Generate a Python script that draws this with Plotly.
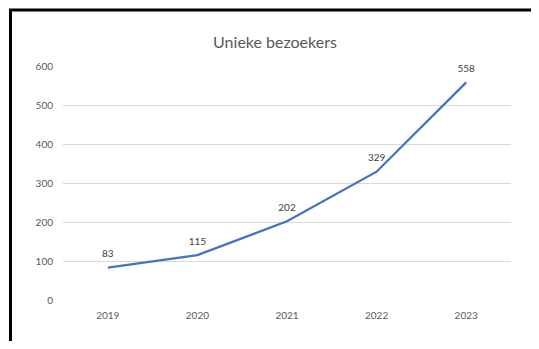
import plotly.graph_objects as go

years = ["2019", "2020", "2021", "2022", "2023"]
visitors = [83, 115, 202, 329, 558]
title_text = "Unieke bezoekers"

OFF = 8  # page body margin
W, H = 539 - OFF, 349 - 2 * OFF
L, T = 63 - OFF, 66 - OFF
R = W - (511 - OFF)
B = H - (300 - OFF)
pw = W - L - R
ph = H - T - B

fig = go.Figure()
fig.add_trace(go.Scatter(
    x=years, y=visitors, mode="lines+markers+text",
    text=[str(v) for v in visitors], textposition="top center",
    textfont=dict(size=10, color="#404040", family="Lato"),
    line=dict(color="#4472C4", width=2.25),
    marker=dict(size=11, color="rgba(0,0,0,0)"),
    hoverinfo="skip", cliponaxis=False,
))

def px_x(p):
    return (p - OFF - L) / pw

def px_y(p):
    return (H - B - (p - OFF)) / ph

# chart frame: only its top and left edges fall inside the page
fig.add_shape(type="rect", xref="paper", yref="paper",
              x0=px_x(10.5), x1=px_x(600), y0=px_y(10), y1=px_y(420),
              line=dict(color="black", width=3), fillcolor="rgba(0,0,0,0)",
              layer="below")

fig.update_layout(
    width=W, height=H,
    margin=dict(l=L, r=R, t=T, b=B),
    paper_bgcolor="white", plot_bgcolor="white",
    showlegend=False,
    font=dict(family="Lato", color="#595959", size=10),
    title=dict(text=title_text, x=(275 - OFF) / W, xanchor="center", xref="container",
               y=1 - (42 - OFF) / H, yanchor="middle", yref="container",
               font=dict(size=16, color="#595959", family="Lato")),
    xaxis=dict(type="category", range=[-0.5, 4.5], showgrid=False, zeroline=False,
               showline=False, ticks="", ticklabelstandoff=8,
               tickfont=dict(size=10, color="#595959")),
    yaxis=dict(range=[0, 600], dtick=100, showgrid=True, gridcolor="#D9D9D9",
               gridwidth=1, zeroline=False, showline=False, ticks="",
               ticklabelstandoff=9, tickfont=dict(size=10, color="#595959")),
)

fig.write_html("out.html", config={"displayModeBar": False})
